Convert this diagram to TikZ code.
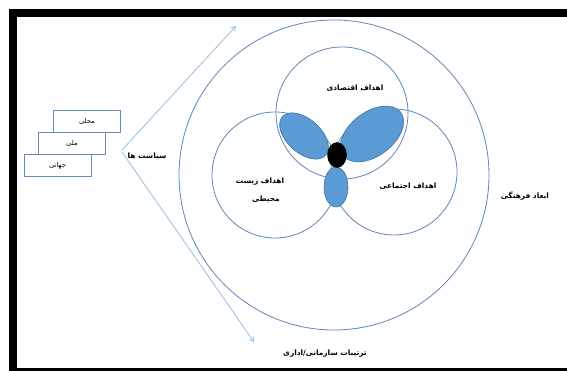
\documentclass[tikz,border=0pt]{standalone}
\usepackage{fontspec}
\usetikzlibrary{shapes.geometric,arrows.meta}
\newfontfamily\arabicfont[Script=Arabic]{DejaVu Sans}
\TeXXeTstate=1
\definecolor{circleline}{RGB}{95,135,185}
\definecolor{ellfill}{RGB}{91,155,213}
\definecolor{ellline}{RGB}{65,113,156}
\definecolor{arrowblue}{RGB}{150,190,230}
\definecolor{boxline}{RGB}{100,140,190}
\tikzset{
  ring/.style={circle,draw=circleline,line width=0.8pt,inner sep=0pt},
  petal/.style={ellipse,draw=ellline,fill=ellfill,line width=0.6pt,inner sep=0pt},
  levelbox/.style={rectangle,draw=boxline,fill=white,line width=0.8pt,minimum width=67pt,minimum height=22pt,inner sep=0pt,font=\arabicfont\fontsize{6.8}{8}\selectfont},
  lbl/.style={inner sep=0pt,font=\arabicfont\bfseries\fontsize{7.4}{9}\selectfont},
  flow/.style={draw=arrowblue,line width=0.8pt,-{Straight Barb[length=4pt,width=5pt]}}
}
\begin{document}
\begin{tikzpicture}[x=1pt,y=-1pt]
\useasboundingbox (0,0) rectangle (567,371);
\clip (0,0) rectangle (567,371);
\fill[white] (0,0) rectangle (567,371);
% frame
\draw[line width=8pt] (13,13) rectangle (620,372);
% big circle
\node[ring,minimum size=310pt] (big) at (334,175) {};
% three goal circles
\node[ring,minimum size=132pt] (eco) at (342,113) {};
\node[ring,minimum size=126pt] (env) at (275,175) {};
\node[ring,minimum size=126pt] (soc) at (394,172) {};
% petals
\node[petal,minimum width=58pt,minimum height=34pt,rotate=-42] (p1) at (304,136) {};
\node[petal,minimum width=72pt,minimum height=44pt,rotate=37] (p2) at (372,134) {};
\node[petal,minimum width=24pt,minimum height=40pt] (p3) at (336,187) {};
\node[ellipse,fill=black,draw=black,minimum width=19pt,minimum height=25pt,inner sep=0pt] (core) at (337,155) {};
% labels
\node[lbl] (teco) at (355,88) {\beginR اهداف اقتصادی\endR};
\node[lbl] (tenv1) at (260,182) {\beginR اهداف زیست\endR};
\node[lbl] (tenv2) at (266,199) {\beginR محیطی\endR};
\node[lbl] (tsoc) at (408,186) {\beginR اهداف اجتماعی\endR};
\node[lbl] (tcul) at (525,196) {\beginR ابعاد فرهنگی\endR};
\node[lbl] (tadm) at (325,354) {\beginR ترتیبات سازمانی/اداری\endR};
\node[lbl] (tpol) at (147,156) {\beginR سیاست ها\endR};
% level boxes
\node[levelbox] (local) at (87,121) {\beginR محلی\endR};
\node[levelbox] (national) at (72,143) {\beginR ملی\endR};
\node[levelbox] (global) at (57.5,165.5) {\beginR جهانی\endR};
% arrows
\coordinate (src1) at (122,150);
\coordinate (src2) at (122,152);
\coordinate (up) at (236,26);
\coordinate (down) at (254,342);
\draw[flow] (src1) -- (up);
\draw[flow] (src2) -- (down);
\end{tikzpicture}
\end{document}
